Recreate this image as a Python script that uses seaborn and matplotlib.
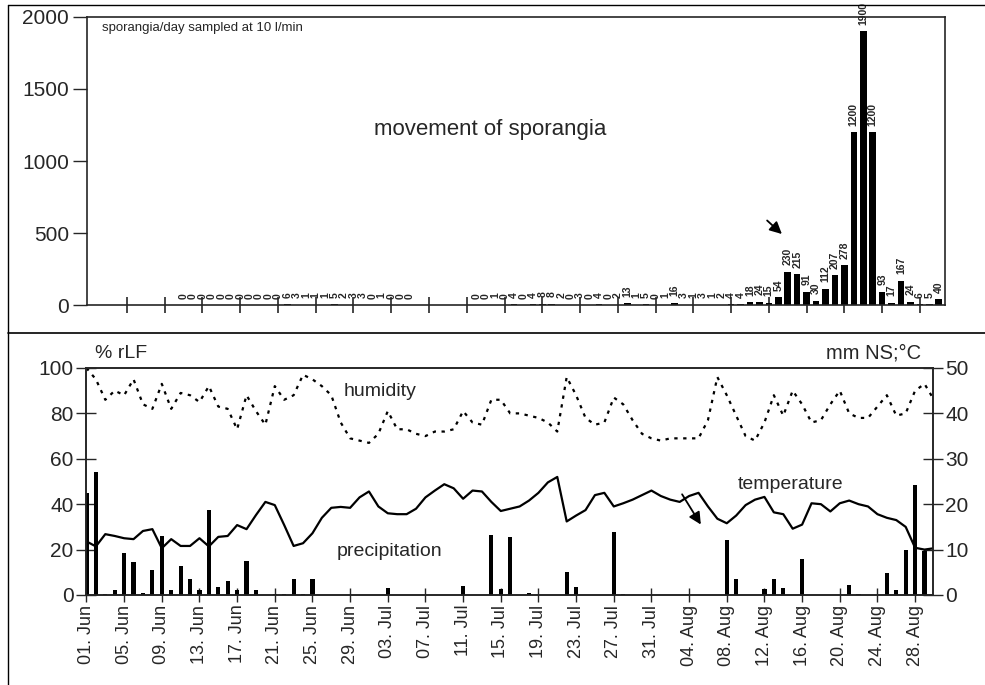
import numpy as np
import pandas as pd
import matplotlib
matplotlib.use("Agg")
import matplotlib.pyplot as plt
from matplotlib.lines import Line2D
import seaborn as sns

# daily weather, 01 Jun (day 0) .. 30 Aug (day 90)
days = np.arange(91)
humidity = [100, 95, 86, 90, 88, 95, 84, 82, 93, 82,
            89, 88, 85, 92, 83, 82, 73, 88, 81, 75,
            92, 86, 88, 97, 95, 92, 88, 76, 69, 68,
            67, 71, 81, 73, 73, 71, 70, 72, 72, 73,
            81, 76, 75, 86, 86, 80, 80, 79, 78, 76,
            72, 96, 88, 78, 75, 76, 87, 84, 77, 71,
            69, 68, 69, 69, 69, 69, 77, 96, 88, 79,
            70, 68, 76, 88, 79, 90, 84, 76, 77, 84,
            90, 80, 78, 78, 83, 88, 79, 80, 90, 93, 86]
temperature = [11.8, 10.7, 13.4, 13.0, 12.5, 12.3, 14.1, 14.5, 10.3, 12.3,
               10.8, 10.8, 12.5, 10.7, 12.8, 13.0, 15.4, 14.5, 17.6, 20.5,
               19.8, 15.4, 10.8, 11.4, 13.6, 17.0, 19.2, 19.4, 19.2, 21.5,
               22.8, 19.5, 18.0, 17.8, 17.8, 19.0, 21.5, 23.0, 24.4, 23.5,
               21.2, 23.0, 22.8, 20.5, 18.5, 19.0, 19.5, 20.8, 22.5, 24.8,
               26.0, 16.2, 17.5, 18.7, 22.0, 22.5, 19.5, 20.2, 21.0, 22.0,
               23.0, 21.8, 21.0, 20.5, 21.8, 22.5, 19.5, 16.8, 15.8, 17.5,
               19.8, 21.0, 21.6, 18.2, 17.8, 14.6, 15.5, 20.2, 20.0, 18.4,
               20.2, 20.8, 20.0, 19.5, 17.8, 17.0, 16.5, 15.0, 10.4, 10.0, 10.3]
precipitation = [22.5, 27.0, 0.3, 1.0, 9.3, 7.2, 0.5, 5.5, 13.0, 1.0,
                 6.3, 3.5, 1.2, 18.7, 1.8, 3.0, 1.2, 7.5, 1.0, 0.0,
                 0.2, 0.2, 3.6, 0.3, 3.5, 0.0, 0.0, 0.0, 0.0, 0.0,
                 0.0, 0.0, 1.5, 0.0, 0.0, 0.0, 0.0, 0.0, 0.0, 0.0,
                 2.0, 0.0, 0.0, 13.2, 1.3, 12.8, 0.0, 0.4, 0.0, 0.0,
                 0.0, 5.0, 1.7, 0.0, 0.0, 0.0, 13.8, 0.3, 0.0, 0.0,
                 0.0, 0.0, 0.0, 0.0, 0.0, 0.0, 0.0, 0.0, 12.2, 3.5,
                 0.0, 0.0, 1.4, 3.6, 1.6, 0.0, 7.9, 0.0, 0.0, 0.0,
                 0.0, 2.1, 0.3, 0.0, 0.0, 4.8, 1.2, 9.8, 24.2, 9.7, 0.0]

# sporangia counts on sampled days
spor_days_early = list(range(10, 35))
spor_early = [0, 0, 0, 0, 0, 0, 0, 0, 0, 0, 0,
              6, 3, 1, 1, 1, 5, 2, 3, 3, 0, 1, 0, 0, 0]
spor_days_late = list(range(41, 91))
spor_late = [0, 0, 1, 0, 4, 0, 4, 8, 8, 2,
             0, 3, 0, 4, 0, 2, 13, 1, 5, 0,
             1, 16, 3, 1, 3, 1, 2, 4, 4,
             18, 24, 15, 54, 230, 215, 91, 30, 112, 207,
             278, 1200, 1900, 1200, 93, 17, 167, 24, 6, 5, 40]

dates = pd.date_range("2000-06-01", periods=91)
tick_days = days[:89:4]
tick_labels = [d.strftime("%d. %b") for d in dates[tick_days]]

weather = pd.DataFrame({"day": days, "humidity": humidity,
                        "temperature": temperature, "precipitation": precipitation})
spor = pd.DataFrame({"day": spor_days_early + spor_days_late,
                     "count": spor_early + spor_late})

sns.set_style("ticks")
plt.rcParams["font.family"] = ["Liberation Sans", "DejaVu Sans"]

fig = plt.figure(figsize=(9.85, 6.85), dpi=100)

# ---- top panel: sporangia
ax_top = fig.add_axes([0.0883, 0.5547, 0.8711, 0.4205])
sns.barplot(data=spor, x="day", y="count", native_scale=True, width=0.7,
            color="black", saturation=1, errorbar=None, linewidth=0, ax=ax_top)
for d, c in zip(spor["day"], spor["count"]):
    ax_top.text(d, c + 45, str(c), rotation=90, ha="center", va="bottom",
                fontsize=7.5, fontweight="bold", clip_on=False)
ax_top.set_xlim(-0.23, 90.66)
ax_top.set_ylim(0, 2000)
ax_top.set_yticks([0, 500, 1000, 1500, 2000])
ax_top.set_xticks(days[4:89:4])
ax_top.set_xticklabels([])
ax_top.set_xlabel("")
ax_top.set_ylabel("")
ax_top.tick_params(axis="y", direction="out", length=10, width=1, labelsize=15, pad=3)
ax_top.tick_params(axis="x", direction="inout", length=12, width=1.2)
for s in ax_top.spines.values():
    s.set_visible(True)
    s.set_linewidth(1.2)
ax_top.text(0.0175, 0.962, "sporangia/day sampled at 10 l/min", transform=ax_top.transAxes,
            ha="left", va="center", fontsize=9.5)
ax_top.text(0.47, 0.608, "movement of sporangia", transform=ax_top.transAxes,
            ha="center", va="center", fontsize=16)
ax_top.annotate("", xy=(73.6, 480), xytext=(71.6, 600),
                arrowprops=dict(arrowstyle="-|>", color="black", lw=1.3, mutation_scale=18))

# ---- bottom panel: weather
ax = fig.add_axes([0.0873, 0.1314, 0.8599, 0.3314])
ax2 = ax.twinx()
sns.barplot(data=weather, x="day", y="precipitation", native_scale=True, width=0.45,
            color="black", saturation=1, errorbar=None, linewidth=0, ax=ax2)
sns.lineplot(data=weather, x="day", y="temperature", color="black", lw=1.6, ax=ax2)
sns.lineplot(data=weather, x="day", y="humidity", color="black", lw=1.6,
             linestyle=(0, (1.5, 2.5)), ax=ax)

ax.set_xlim(-0.05, 89.9)
ax.set_ylim(0, 100)
ax2.set_ylim(0, 50)
ax.set_yticks(range(0, 101, 20))
ax2.set_yticks(range(0, 51, 10))
ax.set_xticks(tick_days)
ax.set_xticklabels(tick_labels, rotation=90)
for a in (ax, ax2):
    a.set_xlabel("")
    a.set_ylabel("")
    for s in a.spines.values():
        s.set_visible(True)
        s.set_linewidth(1.2)
ax.tick_params(axis="y", direction="inout", length=14, width=1, labelsize=15, pad=2)
ax2.tick_params(axis="y", direction="inout", length=14, width=1, labelsize=15, pad=2)
ax.tick_params(axis="x", direction="inout", length=10, width=1, labelsize=13, pad=2)
ax2.set_xlim(ax.get_xlim())

ax.text(27.3, 89.5, "humidity", ha="left", va="center", fontsize=14)
ax.text(69.2, 48.5, "temperature", ha="left", va="center", fontsize=14)
ax.text(26.6, 19, "precipitation", ha="left", va="center", fontsize=14)
ax.annotate("", xy=(65.4, 30), xytext=(63.1, 45.4),
            arrowprops=dict(arrowstyle="-|>", color="black", lw=1.3, mutation_scale=18))

fig.text(95 / 985, 1 - 354 / 685, "% rLF", ha="left", va="center", fontsize=14)
fig.text(921 / 985, 1 - 353 / 685, "mm NS;°C", ha="right", va="center", fontsize=14.5)

# frame lines of the original figure
fig.add_artist(Line2D([8 / 985, 8 / 985], [0, 1 - 5 / 685], color="black", lw=1))
fig.add_artist(Line2D([8 / 985, 1], [1 - 5 / 685, 1 - 5 / 685], color="black", lw=1))
fig.add_artist(Line2D([8 / 985, 1], [1 - 333 / 685, 1 - 333 / 685], color="black", lw=1.2))

fig.savefig("out.png", dpi=100)
plt.close(fig)
